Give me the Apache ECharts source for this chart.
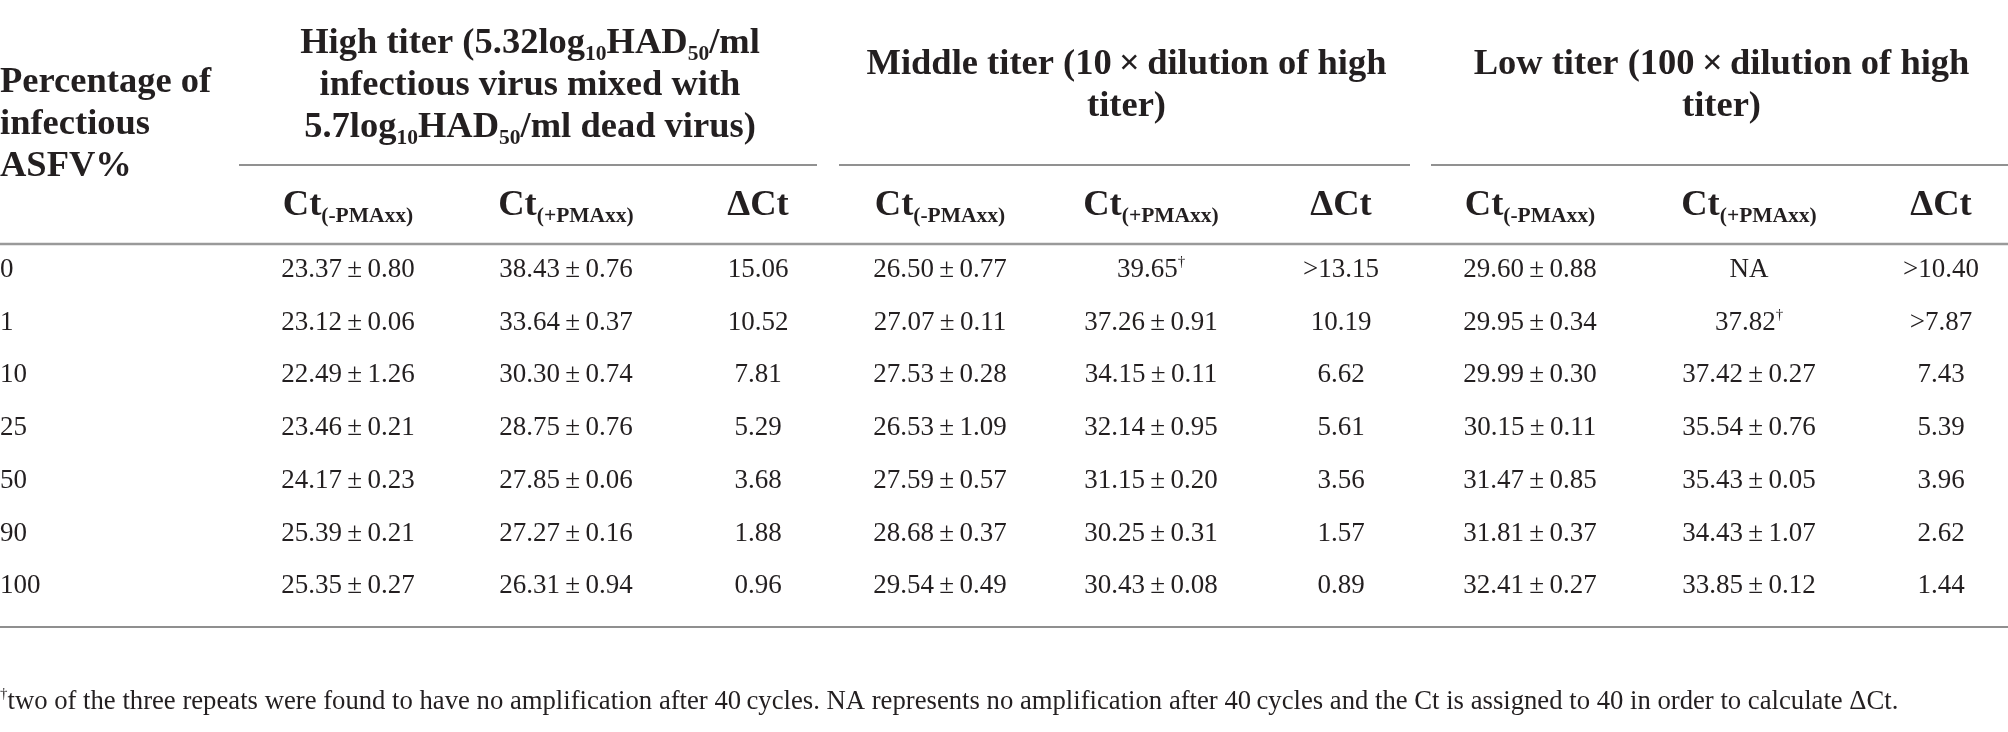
<!DOCTYPE html>
<html>
<head>
<meta charset="utf-8">
<script src="https://cdn.jsdelivr.net/npm/echarts@6.0.0/dist/echarts.min.js"></script>
<style>
  html, body { margin: 0; padding: 0; background: #fff; }
  #main { width: 2008px; height: 732px; }
</style>
</head>
<body>
<div id="main"></div>
<script>
// row labels: percentage of infectious ASFV
const percentages = ['0', '1', '10', '25', '50', '90', '100'];

// high titer
const highMinusMean = [23.37, 23.12, 22.49, 23.46, 24.17, 25.39, 25.35];
const highMinusSd   = [0.80, 0.06, 1.26, 0.21, 0.23, 0.21, 0.27];
const highPlusMean  = [38.43, 33.64, 30.30, 28.75, 27.85, 27.27, 26.31];
const highPlusSd    = [0.76, 0.37, 0.74, 0.76, 0.06, 0.16, 0.94];
const highDelta     = ['15.06', '10.52', '7.81', '5.29', '3.68', '1.88', '0.96'];

// middle titer (10x dilution)
const midMinusMean = [26.50, 27.07, 27.53, 26.53, 27.59, 28.68, 29.54];
const midMinusSd   = [0.77, 0.11, 0.28, 1.09, 0.57, 0.37, 0.49];
const midPlusMean  = [39.65, 37.26, 34.15, 32.14, 31.15, 30.25, 30.43];
const midPlusSd    = [null, 0.91, 0.11, 0.95, 0.20, 0.31, 0.08];
const midDelta     = ['>13.15', '10.19', '6.62', '5.61', '3.56', '1.57', '0.89'];

// low titer (100x dilution)
const lowMinusMean = [29.60, 29.95, 29.99, 30.15, 31.47, 31.81, 32.41];
const lowMinusSd   = [0.88, 0.34, 0.30, 0.11, 0.85, 0.37, 0.27];
const lowPlusMean  = ['NA', 37.82, 37.42, 35.54, 35.43, 34.43, 33.85];
const lowPlusSd    = [null, null, 0.27, 0.76, 0.05, 1.07, 0.12];
const lowDelta     = ['>10.40', '>7.87', '7.43', '5.39', '3.96', '2.62', '1.44'];

// cells with the dagger mark (two of three repeats not amplified)
const daggerCells = [[5, 0], [8, 1]];

const groupTitles = [
  'High titer (5.32log{sub|10}HAD{sub|50}/ml\ninfectious virus mixed with\n5.7log{sub|10}HAD{sub|50}/ml dead virus)',
  'Middle titer (10\u2009×\u2009dilution of high\ntiter)',
  'Low titer (100\u2009×\u2009dilution of high\ntiter)'
];
const subTitles = ['Ct{sub|(-PMAxx)}', 'Ct{sub|(+PMAxx)}', '\u0394Ct'];
const rowTitle = 'Percentage of\ninfectious\nASFV%';
const footnote = '{sup|†}two of the three repeats were found to have no amplification after 40\u2009cycles. NA represents no amplification after 40\u2009cycles and the Ct is assigned to 40 in order to calculate \u0394Ct.';

// layout
const W = 2008;
const FONT = '"Liberation Serif", "Times New Roman", serif';
const INK = '#231f20';
const COL_X = [0, 348, 566, 758, 940, 1151, 1341, 1530, 1749, 1941];
const GROUP_SPAN = [[239, 817], [839, 1410], [1431, 2008]];

const TS = '\u2009';
function pm(m, s) {
  if (typeof m === 'string') return m;
  if (s == null) return m.toFixed(2);
  return m.toFixed(2) + TS + '±' + TS + s.toFixed(2);
}

const columns = [
  percentages,
  highMinusMean.map((m, i) => pm(m, highMinusSd[i])),
  highPlusMean.map((m, i) => pm(m, highPlusSd[i])),
  highDelta,
  midMinusMean.map((m, i) => pm(m, midMinusSd[i])),
  midPlusMean.map((m, i) => pm(m, midPlusSd[i])),
  midDelta,
  lowMinusMean.map((m, i) => pm(m, lowMinusSd[i])),
  lowPlusMean.map((m, i) => pm(m, lowPlusSd[i])),
  lowDelta
];
daggerCells.forEach(([c, r]) => { columns[c][r] += '{sup|†}'; });

const cells = [];
columns.forEach((col, c) => col.forEach((txt, r) => cells.push({ value: [c, r], text: txt })));

const chart = echarts.init(document.getElementById('main'), null, { renderer: 'canvas' });

const HEAD = 36.5;
const subRich = {
  sub: { fontSize: 21.5, fontWeight: 'bold', fontFamily: FONT, lineHeight: 22, verticalAlign: 'bottom', color: INK }
};
const supRich = {
  sup: { fontSize: 15, fontFamily: FONT, lineHeight: 14, verticalAlign: 'top', color: INK }
};

const graphic = [];
// column head for the row labels
graphic.push({
  type: 'text', x: 0, y: 125,
  style: { text: rowTitle, fill: INK, fontFamily: FONT, fontWeight: 'bold', fontSize: HEAD,
    lineHeight: 42, align: 'left', verticalAlign: 'middle' }
});
GROUP_SPAN.forEach((s, g) => {
  graphic.push({
    type: 'text', x: (s[0] + s[1]) / 2 + 2, y: 86,
    style: { text: groupTitles[g], fill: INK, fontFamily: FONT, fontWeight: 'bold', fontSize: HEAD,
      lineHeight: 42, align: 'center', verticalAlign: 'middle', rich: subRich }
  });
  graphic.push({
    type: 'line', shape: { x1: s[0], y1: 165, x2: s[1], y2: 165 },
    style: { stroke: '#6d6d6d', lineWidth: 1.5 }
  });
  subTitles.forEach((t, k) => {
    graphic.push({
      type: 'text', x: COL_X[1 + g * 3 + k], y: 206,
      style: { text: t, fill: INK, fontFamily: FONT, fontWeight: 'bold', fontSize: HEAD,
        lineHeight: 42, align: 'center', verticalAlign: 'middle', rich: subRich }
    });
  });
});
graphic.push({ type: 'line', shape: { x1: 0, y1: 244, x2: W, y2: 244 }, style: { stroke: '#9a9a9a', lineWidth: 2.5 } });
graphic.push({ type: 'line', shape: { x1: 0, y1: 627, x2: W, y2: 627 }, style: { stroke: '#8f8f8f', lineWidth: 2 } });
graphic.push({
  type: 'text', x: 0, y: 702,
  style: { text: footnote, fill: INK, fontFamily: FONT, fontSize: 26.7, lineHeight: 30,
    align: 'left', verticalAlign: 'middle', rich: supRich }
});

chart.setOption({
  backgroundColor: '#fff',
  animation: false,
  grid: { left: 0, right: 0, top: 243.5, height: 369 },
  xAxis: { type: 'value', min: 0, max: W, show: false },
  yAxis: { type: 'category', data: percentages, inverse: true, show: false },
  graphic: graphic,
  series: [{
    type: 'custom',
    data: cells,
    renderItem: function (params, api) {
      const cell = cells[params.dataIndex];
      const c = cell.value[0];
      const pt = api.coord([COL_X[c], cell.value[1]]);
      return {
        type: 'text',
        x: pt[0], y: pt[1],
        style: {
          text: cell.text, fill: INK, fontFamily: FONT, fontSize: 27, lineHeight: 30,
          align: c === 0 ? 'left' : 'center', verticalAlign: 'middle', rich: supRich
        }
      };
    }
  }]
});
</script>
</body>
</html>
